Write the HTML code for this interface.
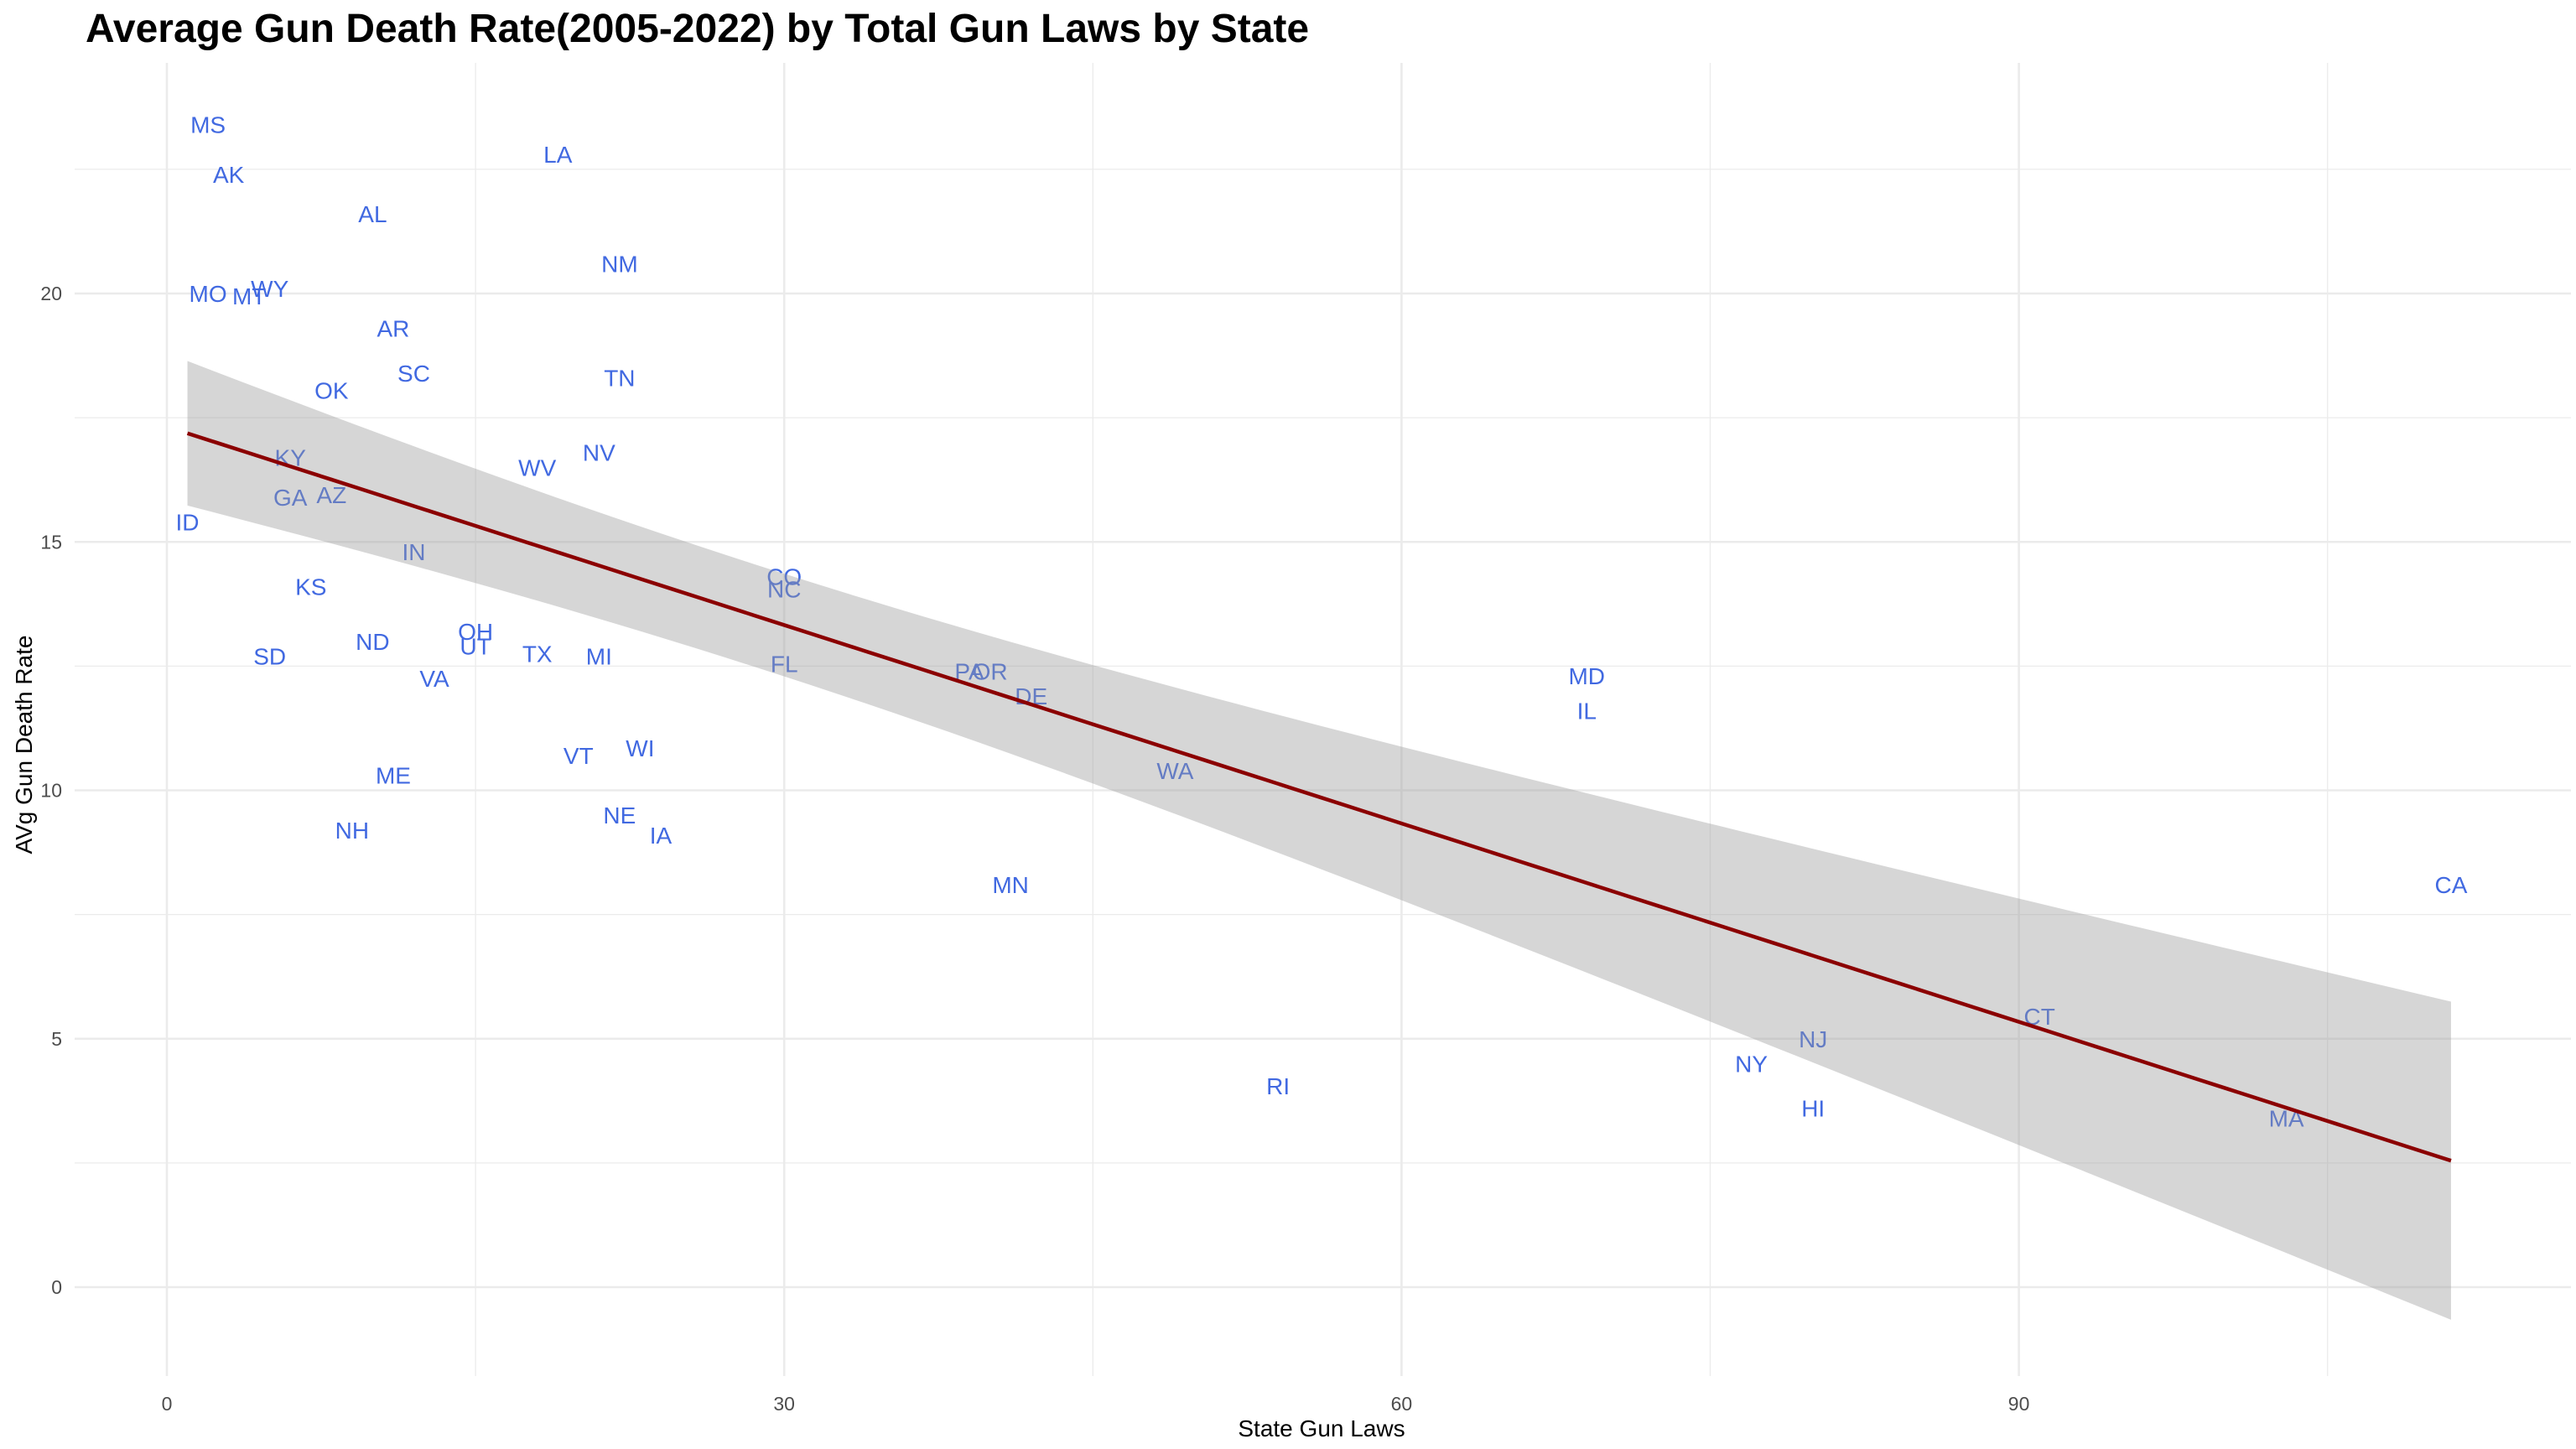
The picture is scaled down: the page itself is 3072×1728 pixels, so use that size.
<!DOCTYPE html>
<html><head><meta charset="utf-8"><style>
html,body{margin:0;padding:0;background:#fff;}
svg{display:block;font-family:"Liberation Sans",Arial,sans-serif;}
</style></head><body>
<svg id="chart" width="3072" height="1728" viewBox="0 0 3072 1728" xmlns="http://www.w3.org/2000/svg">
<rect width="3072" height="1728" fill="#fff"/>
<text x="102" y="50" font-size="48" font-weight="bold" fill="#000">Average Gun Death Rate(2005-2022) by Total Gun Laws by State</text>
<g id="grid"></g>
<g id="labels"></g>
<g id="fit"></g>
<g id="axes"></g>
<text x="1576" y="1713" font-size="28" text-anchor="middle" fill="#000">State Gun Laws</text>
<text transform="translate(38,888) rotate(-90)" font-size="28" text-anchor="middle" fill="#000">AVg Gun Death Rate</text>
</svg>
<script>
const states=["MS","AK","AL","LA","NM","MO","MT","WY","AR","SC","TN","OK","KY","NV","WV","GA","AZ","ID","IN","CO","NC","KS","OH","UT","ND","TX","MI","SD","FL","PA","OR","VA","MD","DE","IL","WA","VT","WI","ME","NE","NH","IA","MN","CA","RI","CT","NJ","NY","HI","MA"];
const gunLaws=[2,3,10,19,22,2,4,5,11,12,22,8,6,21,18,6,8,1,12,30,30,7,15,15,10,18,21,5,30,39,40,13,69,42,69,49,20,23,11,22,9,24,41,111,54,91,80,77,80,103];
const deathRate=[23.4,22.4,21.6,22.8,20.6,20.0,19.95,20.1,19.3,18.4,18.3,18.05,16.7,16.8,16.5,15.9,15.95,15.4,14.8,14.3,14.05,14.1,13.2,12.9,13.0,12.75,12.7,12.7,12.55,12.4,12.4,12.25,12.3,11.9,11.6,10.4,10.7,10.85,10.3,9.5,9.2,9.1,8.1,8.1,4.05,5.45,5.0,4.5,3.6,3.4];
const xTicks=[0,30,60,90];
const yTicks=[0,5,10,15,20];
const xMinor=[15,45,75,105];
const yMinor=[2.5,7.5,12.5,17.5,22.5];

const NS="http://www.w3.org/2000/svg";
const L=89,R=3066,T=75,B=1641;
const sx=v=>199+v*24.54;
const sy=v=>1535-v*59.25;
function mk(tag,attrs,parent){const e=document.createElementNS(NS,tag);for(const k in attrs)e.setAttribute(k,attrs[k]);parent.appendChild(e);return e;}
const grid=document.getElementById('grid');
xMinor.forEach(v=>{const e=mk('line',{x1:sx(v),x2:sx(v),y1:T,y2:B,stroke:'#ebebeb','stroke-width':1.3},grid);

});
yMinor.forEach(v=>{const e=mk('line',{x1:L,x2:R,y1:sy(v),y2:sy(v),stroke:'#ebebeb','stroke-width':1.3},grid);

});
xTicks.forEach(v=>{const e=mk('line',{x1:sx(v),x2:sx(v),y1:T,y2:B,stroke:'#ebebeb','stroke-width':2.6},grid);

});
yTicks.forEach(v=>{const e=mk('line',{x1:L,x2:R,y1:sy(v),y2:sy(v),stroke:'#ebebeb','stroke-width':2.6},grid);

});
const axes=document.getElementById('axes');
xTicks.forEach(v=>{const t=mk('text',{x:sx(v),y:1682,'font-size':23,'text-anchor':'middle',fill:'#4d4d4d'},axes);t.textContent=v;

});
yTicks.forEach(v=>{const t=mk('text',{x:74,y:sy(v)+8,'font-size':23,'text-anchor':'end',fill:'#4d4d4d'},axes);t.textContent=v;

});
const lab=document.getElementById('labels');
states.forEach((s,i)=>{const t=mk('text',{x:sx(gunLaws[i]),y:sy(deathRate[i])+10,'font-size':28,'text-anchor':'middle',fill:'#4169E1'},lab);t.textContent=s;

});
const n=gunLaws.length;
const mx=gunLaws.reduce((a,b)=>a+b,0)/n, my=deathRate.reduce((a,b)=>a+b,0)/n;
let sxx=0,sxy=0;for(let i=0;i<n;i++){sxx+=(gunLaws[i]-mx)**2;sxy+=(gunLaws[i]-mx)*(deathRate[i]-my);}
const b1=sxy/sxx,b0=my-b1*mx;
let sse=0;for(let i=0;i<n;i++){sse+=(deathRate[i]-b0-b1*gunLaws[i])**2;}
const s=Math.sqrt(sse/(n-2)),tq=2.0106;
const xmin=Math.min(...gunLaws),xmax=Math.max(...gunLaws);
const up=[],lo=[],mid=[];
for(let k=0;k<=80;k++){const x=xmin+(xmax-xmin)*k/80;const yh=b0+b1*x;const se=s*Math.sqrt(1/n+(x-mx)**2/sxx);
up.push(sx(x)+','+sy(yh+tq*se));lo.unshift(sx(x)+','+sy(yh-tq*se));mid.push(sx(x)+','+sy(yh));}
const fit=document.getElementById('fit');
const rib=mk('polygon',{points:up.concat(lo).join(' '),fill:'#999999','fill-opacity':0.4},fit);


const ln=mk('polyline',{points:mid.join(' '),fill:'none',stroke:'#8B0000','stroke-width':4.5},fit);


</script>
</body></html>
